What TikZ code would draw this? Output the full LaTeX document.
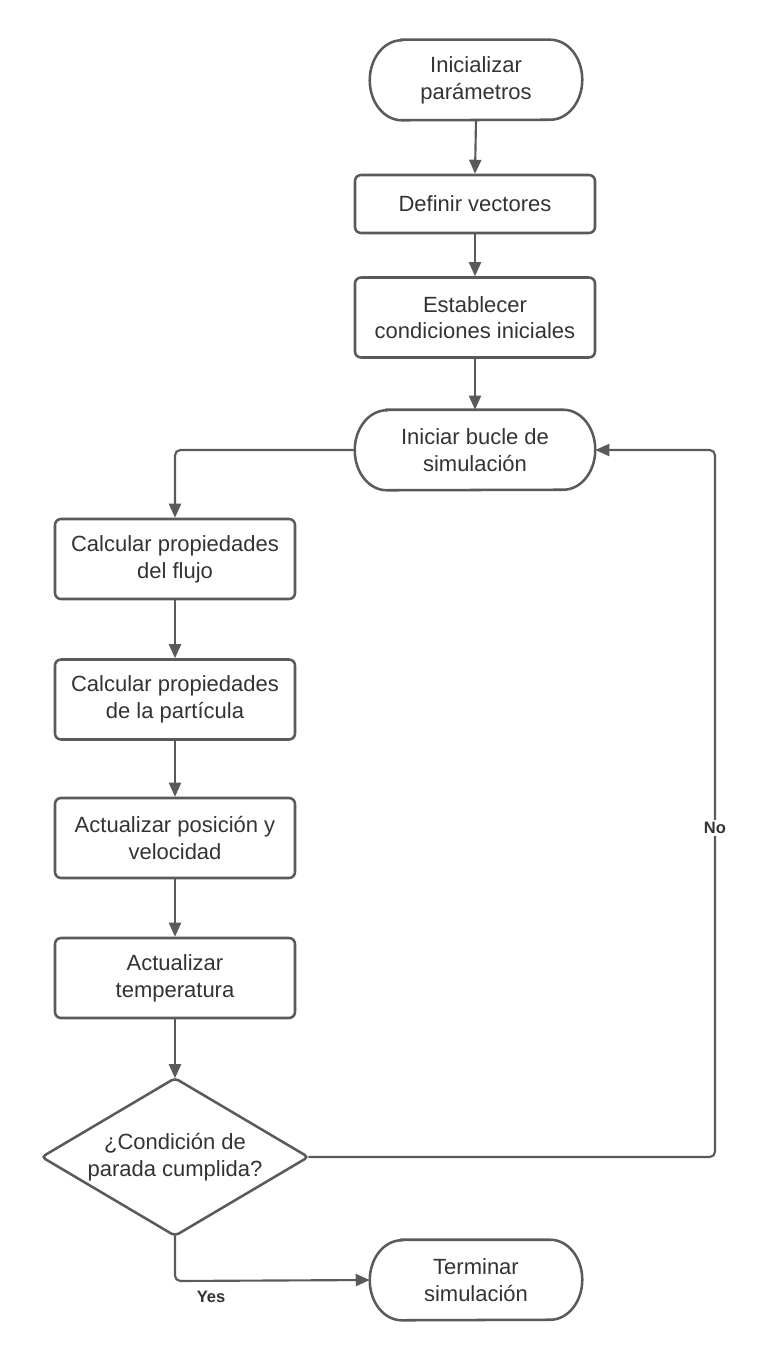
\documentclass[tikz,border=0pt]{standalone}
\usepackage{fontspec}
\setmainfont{Liberation Sans}
\usetikzlibrary{arrows.meta,calc}
\definecolor{linec}{HTML}{5A5A5A}
\definecolor{textc}{HTML}{333333}
\begin{document}
\begin{tikzpicture}[x=0.75pt,y=-0.75pt,
  base/.style={align=center,text=textc,font=\fontsize{16.5}{20}\selectfont,inner sep=0pt},
  procbox/.style={base,draw=linec,line width=1.9pt,rounded corners=4.5pt,minimum width=180pt,minimum height=60pt},
  termbox/.style={base,minimum width=159pt,minimum height=60pt},
  decbox/.style={base,minimum width=199.5pt,minimum height=117.75pt},
  conn/.style={draw=linec,line width=1.6pt,rounded corners=4pt,-{Triangle[length=10.5pt,width=9pt]}},
  plain/.style={draw=linec,line width=1.6pt,rounded corners=4pt},
  lbl/.style={font=\bfseries\fontsize{12.4}{14}\selectfont,text=textc,fill=white,inner sep=2pt}
]
\useasboundingbox (0,0) rectangle (767,1369);

\newcommand{\termoutline}[1]{%
  \draw[linec,line width=1.9pt]
    ($(#1.north west)+(24pt,0)$) -- ($(#1.north east)+(-24pt,0)$)
    arc[start angle=90,end angle=-90,x radius=24pt,y radius=30pt]
    -- ($(#1.south west)+(24pt,0)$)
    arc[start angle=270,end angle=90,x radius=24pt,y radius=30pt] -- cycle;}

\node[termbox] (ini) at (476,80) {Inicializar\\parámetros};
\termoutline{ini}
\node[procbox,minimum height=43.5pt] (def) at (475,204) {Definir vectores};
\node[procbox] (est) at (475,317.5) {Establecer\\condiciones iniciales};
\node[termbox,minimum width=180pt] (buc) at (475,450) {Iniciar bucle de\\simulación};
\termoutline{buc}
\node[procbox] (flu) at (175,559) {Calcular propiedades\\del flujo};
\node[procbox] (par) at (175,699.5) {Calcular propiedades\\de la partícula};
\node[procbox] (pos) at (175,838) {Actualizar posición y\\velocidad};
\node[procbox] (tem) at (175,978) {Actualizar\\temperatura};
\node[decbox] (dec) at (175,1157) {¿Condición de\\parada cumplida?};
\draw[linec,line width=1.9pt,rounded corners=3pt]
  (dec.north) -- (dec.east) -- (dec.south) -- (dec.west) -- cycle;
\node[termbox] (fin) at (476,1280) {Terminar\\simulación};
\termoutline{fin}

\coordinate (nr) at (715,1157);
\coordinate (nt) at (715,450);
\coordinate (yb) at (175,1281);

\draw[conn] (ini.south) -- (def.north);
\draw[conn] (def.south) -- (est.north);
\draw[conn] (est.south) -- (buc.north);
\draw[conn] (buc.west) -| (flu.north);
\draw[conn] (flu.south) -- (par.north);
\draw[conn] (par.south) -- (pos.north);
\draw[conn] (pos.south) -- (tem.north);
\draw[conn] (tem.south) -- (dec.north);
\draw[conn] (dec.east) -- (nr) -- (nt) -- (buc.east);
\node[lbl] (no) at (715,828) {No};
\draw[conn] (dec.south) -- (yb) -- (fin.west);
\node[lbl,fill=none] (yes) at (211,1297) {Yes};
\end{tikzpicture}
\end{document}
